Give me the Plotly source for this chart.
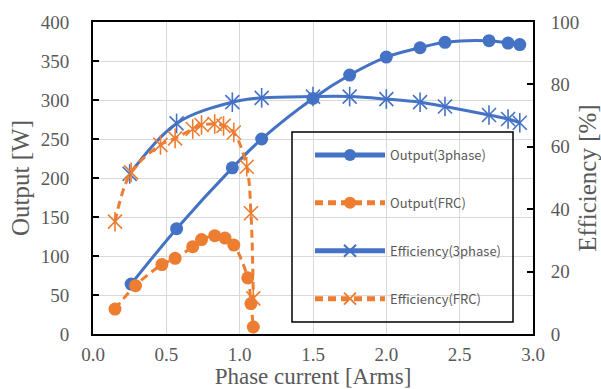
import plotly.graph_objects as go

# Output (3 phase)
x_out3 = [0.26, 0.57, 0.95, 1.15, 1.50, 1.75, 2.00, 2.23, 2.40, 2.70, 2.83, 2.91]
y_out3 = [64, 135, 213, 250, 302, 332, 355, 367, 374, 376, 373, 371]
# Efficiency (3 phase)
x_eff3 = [0.25, 0.57, 0.95, 1.15, 1.50, 1.75, 2.00, 2.23, 2.40, 2.70, 2.83, 2.91]
y_eff3 = [51.3, 67.5, 74.3, 75.7, 76.1, 76.1, 75.3, 74.3, 72.9, 70.2, 68.9, 67.7]
# Output (FRC)
x_outf = [0.15, 0.29, 0.47, 0.56, 0.68, 0.74, 0.83, 0.90, 0.96, 1.055, 1.077, 1.093]
y_outf = [32, 62, 89, 97, 112, 121, 126, 123, 114, 72, 39, 9]
# Efficiency (FRC)
x_efff = [0.15, 0.26, 0.46, 0.56, 0.68, 0.74, 0.83, 0.89, 0.96, 1.048, 1.077, 1.093]
y_efff = [36, 51.8, 60.6, 62.7, 65.7, 67, 67.3, 66.7, 64.6, 53.6, 38.7, 11.4]

x_ticks = [0.0, 0.5, 1.0, 1.5, 2.0, 2.5, 3.0]
x_tick_text = ["0.0", "0.5", "1.0", "1.5", "2.0", "2.5", "3.0"]

BLUE = "#4472C4"
ORANGE = "#ED7D31"
GRAY = "#595959"
SERIF = "Liberation Serif, Times New Roman, serif"
SANS = "Noto Sans CJK JP, Noto Sans, sans-serif"

W, H = 601, 389
# plot area wanted at x 93..533, y 22..334
PX0, PX1, PY0, PY1 = 93, 533, 22, 334


def px(x):
    return (x - PX0) / (PX1 - PX0)


def py(y):
    return (PY1 - y) / (PY1 - PY0)


fig = go.Figure()

fig.add_trace(go.Scatter(
    x=x_out3, y=y_out3, name="Output(3phase)", legendgroup="a",
    mode="lines+markers", line=dict(color=BLUE, width=3, shape="spline"),
    marker=dict(symbol="circle", size=13, color=BLUE), yaxis="y"))
fig.add_trace(go.Scatter(
    x=x_outf, y=y_outf, name="Output(FRC)", legendgroup="b",
    mode="lines+markers", line=dict(color=ORANGE, width=3, dash="8px,5px", shape="spline"),
    marker=dict(symbol="circle", size=13, color=ORANGE), yaxis="y"))
fig.add_trace(go.Scatter(
    x=x_eff3, y=y_eff3, name="Efficiency(3phase)", legendgroup="c",
    mode="lines+markers", line=dict(color=BLUE, width=3, shape="spline"),
    marker=dict(symbol="x-thin-open", size=14, color=BLUE, line=dict(color=BLUE, width=1.6)),
    yaxis="y2"))
fig.add_trace(go.Scatter(
    x=x_eff3, y=y_eff3, showlegend=False, legendgroup="c", hoverinfo="skip",
    mode="markers",
    marker=dict(symbol="line-ns-open", size=14, color=BLUE, line=dict(color=BLUE, width=1.6)),
    yaxis="y2"))
fig.add_trace(go.Scatter(
    x=x_efff, y=y_efff, name="Efficiency(FRC)", legendgroup="d",
    mode="lines+markers", line=dict(color=ORANGE, width=3, dash="8px,5px", shape="spline"),
    marker=dict(symbol="x-thin-open", size=14, color=ORANGE, line=dict(color=ORANGE, width=1.6)),
    yaxis="y2"))
fig.add_trace(go.Scatter(
    x=x_efff, y=y_efff, showlegend=False, legendgroup="d", hoverinfo="skip",
    mode="markers",
    marker=dict(symbol="line-ns-open", size=14, color=ORANGE, line=dict(color=ORANGE, width=1.6)),
    yaxis="y2"))

fig.update_layout(
    width=W, height=H,
    margin=dict(l=PX0, r=W - PX1, t=PY0, b=H - PY1, autoexpand=False),
    paper_bgcolor="white", plot_bgcolor="white",
    xaxis=dict(
        range=[0, 3.0], tickvals=x_ticks, ticktext=x_tick_text, automargin=False,
        showgrid=True, gridcolor="#D9D9D9", gridwidth=1.3,
        showline=True, linecolor="black", linewidth=2, mirror=True,
        ticks="", zeroline=False, ticklabelstandoff=2,
        tickfont=dict(family=SERIF, size=19, color=GRAY),
        title=dict(text="Phase current [Arms]", font=dict(family=SERIF, size=23, color=GRAY), standoff=5),
    ),
    yaxis=dict(
        range=[0, 400], dtick=50, automargin=False,
        showgrid=True, gridcolor="#D9D9D9", gridwidth=1.3,
        showline=True, linecolor="black", linewidth=2,
        ticks="inside", ticklen=6, tickcolor="black", tickwidth=1.5, zeroline=False,
        ticklabelstandoff=18,
        tickfont=dict(family=SERIF, size=19, color=GRAY),
        title=dict(text="Output [W]", font=dict(family=SERIF, size=25, color=GRAY), standoff=4),
    ),
    yaxis2=dict(
        range=[0, 100], dtick=20, overlaying="y", side="right", automargin=False,
        showgrid=False,
        showline=True, linecolor="black", linewidth=2,
        ticks="inside", ticklen=6, tickcolor="black", tickwidth=1.5, zeroline=False,
        ticklabelstandoff=12,
        tickfont=dict(family=SERIF, size=19, color=GRAY),
        title=dict(text="Efficiency [%]", font=dict(family=SERIF, size=25, color=GRAY), standoff=7),
    ),
    legend=dict(
        x=px(310), y=py(140), xanchor="left", yanchor="top",
        bgcolor="rgba(0,0,0,0)", borderwidth=0,
        font=dict(family=SANS, size=13, color=GRAY),
        itemwidth=70, tracegroupgap=28, traceorder="grouped", itemsizing="constant",
    ),
    shapes=[dict(type="rect", xref="paper", yref="paper",
                 x0=px(292), x1=px(513), y0=py(322), y1=py(132),
                 line=dict(color="black", width=1.5), fillcolor="rgba(0,0,0,0)")],
    showlegend=True,
)

fig.write_html(
    "out.html",
    config={"displayModeBar": False},
    post_script="document.body.style.margin='0';document.body.style.overflow='hidden';",
)
